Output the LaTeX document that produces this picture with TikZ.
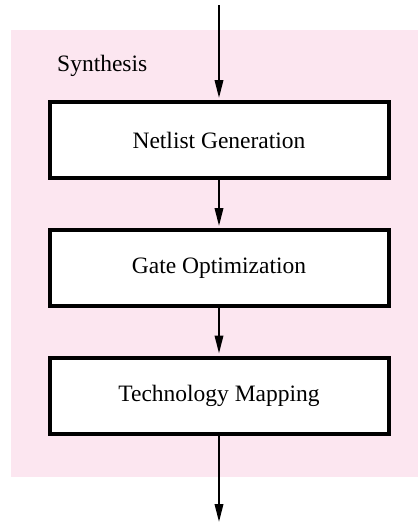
\documentclass[tikz,border=0pt]{standalone}
\usepackage{fontspec}
\setmainfont{Liberation Serif}
\usetikzlibrary{arrows.meta}
\definecolor{clusterpink}{RGB}{252,230,240}
\begin{document}
\begin{tikzpicture}[x=1pt,y=-1pt,
  stepbox/.style={draw=black,line width=4pt,fill=white,rectangle,
    minimum width=339pt,minimum height=76pt,inner sep=0pt,
    font=\fontsize{23.5}{28}\selectfont},
  flow/.style={line width=2pt,-{Triangle[length=18pt,width=8.5pt]},shorten >=2pt}]
\useasboundingbox (0,0) rectangle (418,523);
\fill[clusterpink] (11,30) rectangle (418,477);
\node[anchor=base west,inner sep=0pt,font=\fontsize{23.5}{28}\selectfont] (lbl) at (57,71) {Synthesis};
\coordinate (in) at (219,5);
\coordinate (out) at (219,522);
\node[stepbox] (n1) at (219,140) {Netlist Generation};
\node[stepbox] (n2) at (219,268) {Gate Optimization};
\node[stepbox] (n3) at (219,395.5) {Technology Mapping};
\draw[flow] (in) -- (n1.north);
\draw[flow] (n1.south) -- (n2.north);
\draw[flow] (n2.south) -- (n3.north);
\draw[flow,shorten >=0pt] (n3.south) -- (out);
\end{tikzpicture}
\end{document}
